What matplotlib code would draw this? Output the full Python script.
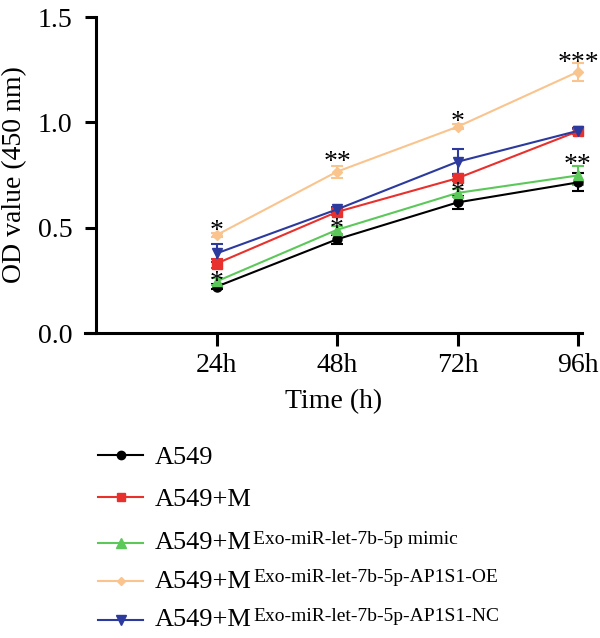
import numpy as np
import matplotlib
matplotlib.use("Agg")
import matplotlib.pyplot as plt
from matplotlib.lines import Line2D

plt.rcParams['font.family'] = ['Liberation Serif', 'DejaVu Serif']

hours = [24, 48, 72, 96]
hour_labels = ["24h", "48h", "72h", "96h"]

a549 = [0.22, 0.445, 0.62, 0.715]
a549_err = [0.012, 0.02, 0.03, 0.043]
a549_m = [0.33, 0.575, 0.735, 0.958]
a549_m_err = [0.02, 0.015, 0.012, 0.012]
mimic = [0.245, 0.49, 0.665, 0.748]
mimic_err = [0.015, 0.02, 0.02, 0.044]
oe = [0.465, 0.766, 0.979, 1.24]
oe_err = [0.01, 0.028, 0.012, 0.042]
nc = [0.378, 0.587, 0.813, 0.96]
nc_err = [0.043, 0.012, 0.06, 0.012]

# significance marks: (x, y, text)
star_x = [24, 24, 48, 48, 72, 72, 96, 96]
star_y = [0.52, 0.28, 0.85, 0.53, 1.04, 0.70, 1.32, 0.835]
star_txt = ["*", "*", "**", "*", "*", "*", "***", "**"]

series = [
    ("A549", a549, a549_err, "#000000", "o", 6.5, ""),
    ("A549+M", a549_m, a549_m_err, "#e8302c", "s", 6.5, ""),
    ("A549+M", mimic, mimic_err, "#5cc85a", "^", 7, "Exo-miR-let-7b-5p mimic"),
    ("A549+M", oe, oe_err, "#f9c48e", "D", 5, "Exo-miR-let-7b-5p-AP1S1-OE"),
    ("A549+M", nc, nc_err, "#2c3a9e", "v", 7, "Exo-miR-let-7b-5p-AP1S1-NC"),
]

fig = plt.figure(figsize=(6.0, 6.38), dpi=100)
ax = fig.add_axes([0.1417, 0.478, 0.8283, 0.4953])

for name, vals, errs, col, mk, ms, sup in series:
    ax.errorbar(hours, vals, yerr=errs, color=col, marker=mk, markersize=ms,
                linewidth=1.5, elinewidth=1.5, capsize=4, capthick=1.5,
                clip_on=False, zorder=3)

for x, y, t in zip(star_x, star_y, star_txt):
    ax.annotate(t, (x, y), xytext=(0, -6), textcoords="offset points",
                ha="center", va="center", fontsize=20, zorder=5)

ax.set_xlim(-2.2, 96.8)
ax.set_ylim(0, 1.5)
ax.spines['left'].set_position(('data', 0))
ax.spines['top'].set_visible(False)
ax.spines['right'].set_visible(False)
ax.spines['left'].set_linewidth(2.2)
ax.spines['bottom'].set_linewidth(2.2)
ax.set_xticks(hours)
ax.set_xticklabels(hour_labels)
ax.set_yticks([0, 0.5, 1.0, 1.5])
ax.set_yticklabels(["0.0", "0.5", "1.0", "1.5"])
ax.tick_params(axis='x', length=9.5, width=2.2, labelsize=20, pad=5)
ax.tick_params(axis='y', length=8, width=2.2, labelsize=20, pad=9)
ax.set_xlabel("Time (h)", fontsize=20, labelpad=8)
ax.set_ylabel("OD value (450 nm)", fontsize=20)
ax.yaxis.label.set_va("center")
ax.yaxis.set_label_coords(-0.142, 0.5)

# legend drawn by hand so the superscripts sit like the original
renderer = fig.canvas.get_renderer()
H = 638.0
W = 600.0
row_y = [455, 497, 542.5, 581, 620]
for (name, vals, errs, col, mk, ms, sup), ry in zip(series, row_y):
    yf = 1 - ry / H
    fig.add_artist(Line2D([98 / W, 143 / W], [yf, yf], color=col,
                          linewidth=1.5))
    fig.add_artist(Line2D([121 / W], [yf], color=col, marker=mk,
                          markersize=ms - 0.5, linestyle="none"))
    base = ry + (6.5 if sup else 9.5)
    main = fig.text(155 / W, 1 - base / H, name, fontsize=19,
                    va="baseline", ha="left")
    if sup:
        bb = main.get_window_extent(renderer)
        fig.text(bb.x1 / W + 0.002, 1 - (base - 5.5) / H, sup,
                 fontsize=14, va="baseline", ha="left")

fig.savefig("out.png", dpi=100)
